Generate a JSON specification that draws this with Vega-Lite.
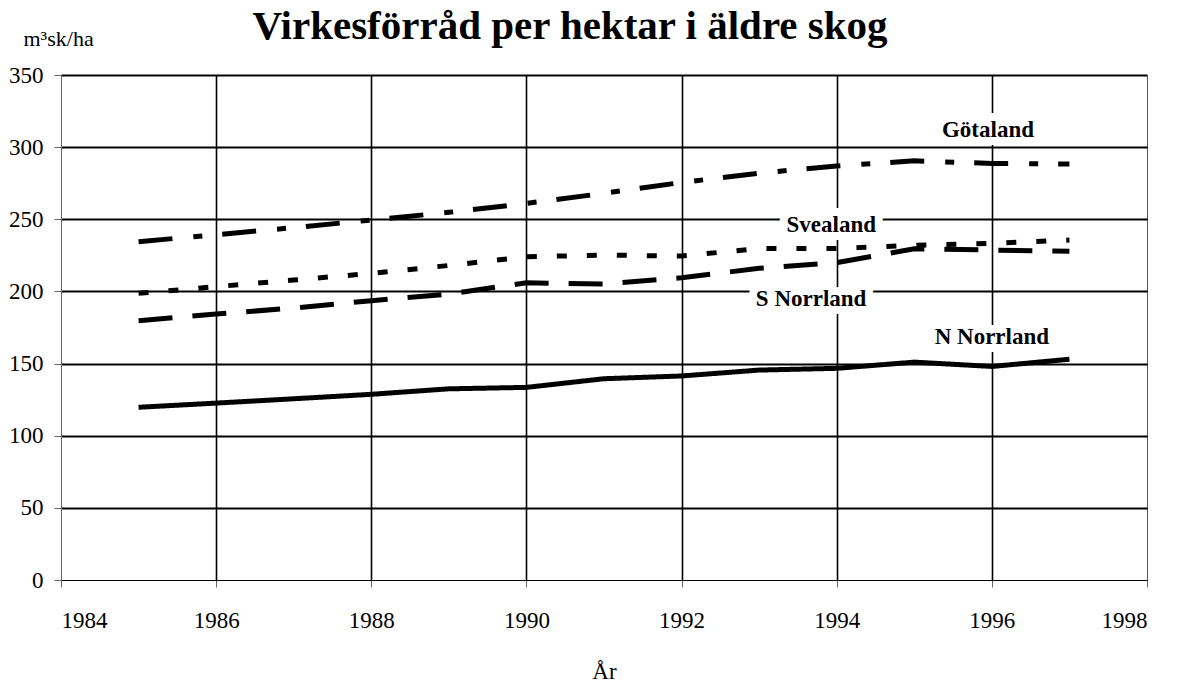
{
  "$schema": "https://vega.github.io/schema/vega-lite/v6.json",
  "width": 1086,
  "height": 505,
  "autosize": "none",
  "padding": {"left": 61, "top": 75, "right": 30, "bottom": 104},
  "background": "white",
  "config": {"font": "Liberation Serif, Times New Roman, Times, serif", "view": {"stroke": null}},
  "title": {
    "text": "Virkesförråd per hektar i äldre skog",
    "font": "Liberation Serif, Times New Roman, Times, serif",
    "fontSize": 41,
    "fontWeight": "bold",
    "color": "black",
    "anchor": "middle",
    "dx": -34,
    "baseline": "alphabetic",
    "offset": -53
  },
  "datasets": {
    "series": [
      {"region": "Götaland", "year": 1985, "value": 234.5},
      {"region": "Götaland", "year": 1986, "value": 239.3},
      {"region": "Götaland", "year": 1987, "value": 244.2},
      {"region": "Götaland", "year": 1988, "value": 249.5},
      {"region": "Götaland", "year": 1989, "value": 254.8},
      {"region": "Götaland", "year": 1990, "value": 261},
      {"region": "Götaland", "year": 1991, "value": 268},
      {"region": "Götaland", "year": 1992, "value": 275.5},
      {"region": "Götaland", "year": 1993, "value": 282},
      {"region": "Götaland", "year": 1994, "value": 287},
      {"region": "Götaland", "year": 1995, "value": 290.5},
      {"region": "Götaland", "year": 1996, "value": 288.7},
      {"region": "Götaland", "year": 1997, "value": 288.3},
      {"region": "Svealand", "year": 1985, "value": 198.7},
      {"region": "Svealand", "year": 1986, "value": 203.3},
      {"region": "Svealand", "year": 1987, "value": 207.9},
      {"region": "Svealand", "year": 1988, "value": 212.5},
      {"region": "Svealand", "year": 1989, "value": 218},
      {"region": "Svealand", "year": 1990, "value": 224},
      {"region": "Svealand", "year": 1991, "value": 225.2},
      {"region": "Svealand", "year": 1992, "value": 224.5},
      {"region": "Svealand", "year": 1993, "value": 229.8},
      {"region": "Svealand", "year": 1994, "value": 229.8},
      {"region": "Svealand", "year": 1995, "value": 232},
      {"region": "Svealand", "year": 1996, "value": 233.3},
      {"region": "Svealand", "year": 1997, "value": 235.6},
      {"region": "S Norrland", "year": 1985, "value": 179.7},
      {"region": "S Norrland", "year": 1986, "value": 184.3},
      {"region": "S Norrland", "year": 1987, "value": 188.5},
      {"region": "S Norrland", "year": 1988, "value": 193.6},
      {"region": "S Norrland", "year": 1989, "value": 198.2},
      {"region": "S Norrland", "year": 1990, "value": 206},
      {"region": "S Norrland", "year": 1991, "value": 205.1},
      {"region": "S Norrland", "year": 1992, "value": 209.5},
      {"region": "S Norrland", "year": 1993, "value": 216},
      {"region": "S Norrland", "year": 1994, "value": 220},
      {"region": "S Norrland", "year": 1995, "value": 229.5},
      {"region": "S Norrland", "year": 1996, "value": 228.7},
      {"region": "S Norrland", "year": 1997, "value": 227.8},
      {"region": "N Norrland", "year": 1985, "value": 119.7},
      {"region": "N Norrland", "year": 1986, "value": 122.6},
      {"region": "N Norrland", "year": 1987, "value": 125.6},
      {"region": "N Norrland", "year": 1988, "value": 128.7},
      {"region": "N Norrland", "year": 1989, "value": 132.5},
      {"region": "N Norrland", "year": 1990, "value": 133.5},
      {"region": "N Norrland", "year": 1991, "value": 139.5},
      {"region": "N Norrland", "year": 1992, "value": 141.4},
      {"region": "N Norrland", "year": 1993, "value": 145.5},
      {"region": "N Norrland", "year": 1994, "value": 146.7},
      {"region": "N Norrland", "year": 1995, "value": 151},
      {"region": "N Norrland", "year": 1996, "value": 148},
      {"region": "N Norrland", "year": 1997, "value": 153}
    ],
    "labels": [
      {"label": "Götaland", "year": 1995.95, "value": 312},
      {"label": "Svealand", "year": 1993.93, "value": 246},
      {"label": "S Norrland", "year": 1993.67, "value": 194.7},
      {"label": "N Norrland", "year": 1996.0, "value": 168.4}
    ]
  },
  "layer": [
    {
      "data": {"name": "labels"},
      "mark": {"type": "text", "fontSize": 23, "fontWeight": "bold", "baseline": "middle", "align": "center", "stroke": "white", "strokeWidth": 16, "strokeJoin": "round", "fill": "white"},
      "encoding": {
        "x": {"field": "year", "type": "quantitative", "scale": {"domain": [1984, 1998], "nice": false, "zero": false},
          "axis": {
            "values": [1984, 1986, 1988, 1990, 1992, 1994, 1996, 1998],
            "format": "d",
            "grid": true,
            "gridColor": {"condition": {"test": "datum.value === 1984 || datum.value === 1998", "value": "#555555"}, "value": "black"},
            "gridWidth": {"condition": {"test": "datum.value === 1984 || datum.value === 1998", "value": 1}, "value": 1.6},
            "domainColor": "black",
            "domainWidth": 1.2,
            "tickColor": "#666666",
            "tickSize": 7,
            "tickWidth": 1,
            "labelFontSize": 23,
            "labelColor": "black",
            "labelPadding": 22,
            "title": "År",
            "titleFontSize": 23,
            "titleFontWeight": "normal",
            "titleColor": "black",
            "titleBaseline": "alphabetic",
            "titleY": 98
          }
        },
        "y": {"field": "value", "type": "quantitative", "scale": {"domain": [0, 350], "nice": false},
          "axis": {
            "values": [0, 50, 100, 150, 200, 250, 300, 350],
            "grid": true,
            "gridColor": "black",
            "gridWidth": {"condition": {"test": "datum.value === 0", "value": 1.2}, "value": 2},
            "domainColor": "#666666",
            "domainWidth": 1,
            "tickColor": "#666666",
            "tickSize": 7,
            "tickWidth": 1,
            "labelFontSize": 23,
            "labelColor": "black",
            "labelPadding": 11,
            "title": "m³sk/ha",
            "titleFontSize": 22,
            "titleFontWeight": "normal",
            "titleColor": "black",
            "titleAngle": 0,
            "titleAlign": "left",
            "titleBaseline": "alphabetic",
            "titleX": -38,
            "titleY": -30
          }
        },
        "text": {"field": "label"}
      }
    },
    {
      "data": {"name": "series"},
      "mark": {"type": "line", "color": "black", "strokeWidth": 5, "strokeCap": "butt"},
      "encoding": {
        "x": {"field": "year", "type": "quantitative"},
        "y": {"field": "value", "type": "quantitative"},
        "detail": {"field": "region"},
        "strokeDash": {
          "field": "region",
          "type": "nominal",
          "scale": {"domain": ["Götaland", "Svealand", "S Norrland", "N Norrland"], "range": [[34, 21, 9, 20], [10, 20], [34, 20], [1, 0]]},
          "legend": null
        }
      }
    },
    {
      "data": {"name": "labels"},
      "mark": {"type": "text", "fontSize": 23, "fontWeight": "bold", "baseline": "middle", "align": "center", "color": "black"},
      "encoding": {
        "x": {"field": "year", "type": "quantitative"},
        "y": {"field": "value", "type": "quantitative"},
        "text": {"field": "label"}
      }
    }
  ]
}
